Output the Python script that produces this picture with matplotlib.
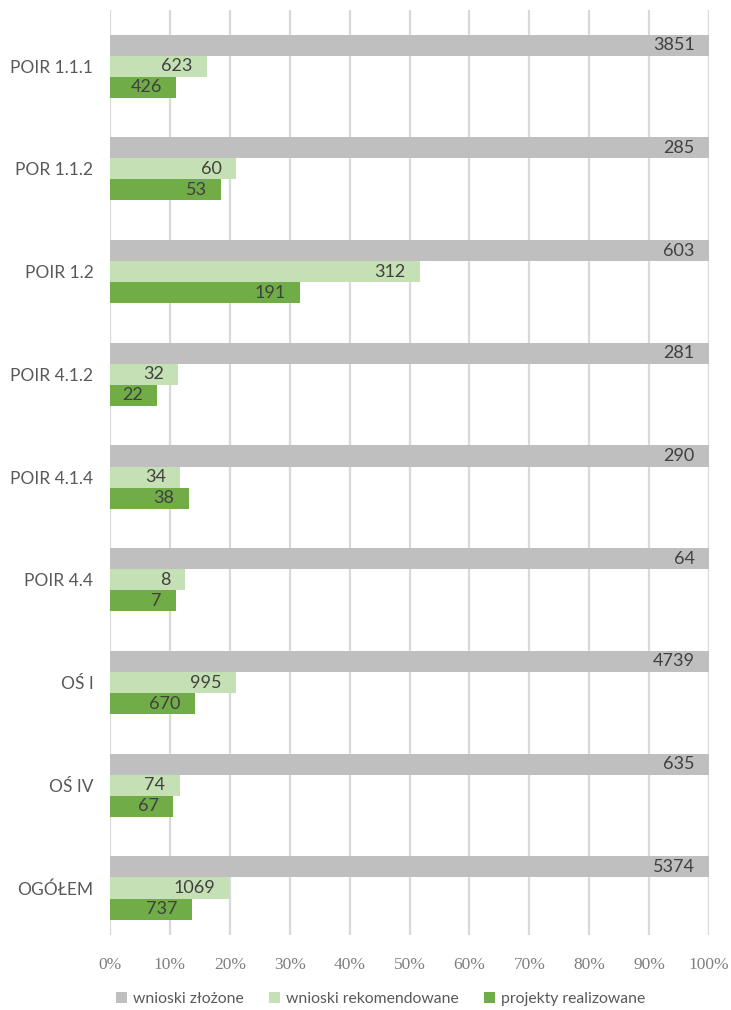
import numpy as np
import matplotlib
matplotlib.use('Agg')
import matplotlib.pyplot as plt
from matplotlib.ticker import PercentFormatter

categories = ['POIR 1.1.1', 'POR 1.1.2', 'POIR 1.2', 'POIR 4.1.2', 'POIR 4.1.4',
              'POIR 4.4', 'OŚ I', 'OŚ IV', 'OGÓŁEM']
zlozone = [3851, 285, 603, 281, 290, 64, 4739, 635, 5374]
rekomendowane = [623, 60, 312, 32, 34, 8, 995, 74, 1069]
realizowane = [426, 53, 191, 22, 38, 7, 670, 67, 737]
series_names = ['wnioski złożone', 'wnioski rekomendowane', 'projekty realizowane']
colors = ['#bfbfbf', '#c5e0b4', '#70ad47']

sans = ['Lato', 'DejaVu Sans']
text_col = '#404040'

fig = plt.figure(figsize=(7.31, 10.1), dpi=100)
ax = fig.add_axes([0.1505, 0.0743, 0.8195, 0.9157])

y = np.arange(len(categories))
h = 0.205
counts = [np.array(zlozone), np.array(rekomendowane), np.array(realizowane)]
base = np.array(zlozone, dtype=float)
for k, (vals, col, name) in enumerate(zip(counts, colors, series_names)):
    share = vals / base * 100
    bars = ax.barh(y + (k - 1) * h, share, height=h, color=col, label=name, zorder=3)
    for b, v in zip(bars, vals):
        ax.text(b.get_width() - 2.4, b.get_y() + b.get_height() / 2, str(v),
                ha='right', va='center', fontsize=13, color=text_col,
                family=sans, zorder=4)

ax.set_xlim(0, 100)
ax.set_ylim(len(categories) - 1 + 0.457, -0.545)
ax.set_xticks(np.arange(0, 101, 10))
ax.xaxis.set_major_formatter(PercentFormatter(decimals=0))
ax.set_yticks(y)
ax.set_yticklabels(categories, family=sans, fontsize=12.5, color='#595959')
for lab in ax.get_xticklabels():
    lab.set_family('Liberation Serif')
    lab.set_fontsize(12.5)
    lab.set_color('#7f7f7f')
ax.tick_params(axis='y', length=0, pad=12)
ax.tick_params(axis='x', length=0, pad=16)
ax.grid(axis='x', color='#d9d9d9', linewidth=1.6, zorder=0)
for s in ax.spines.values():
    s.set_visible(False)

leg = fig.legend(loc='center', bbox_to_anchor=(0.521, 0.0105), ncol=3, frameon=False,
                 prop={'family': sans, 'size': 11.3}, handlelength=0.7, handleheight=0.7,
                 handletextpad=0.4, columnspacing=1.6)
for t in leg.get_texts():
    t.set_color('#595959')

fig.savefig('out.png', dpi=100)
